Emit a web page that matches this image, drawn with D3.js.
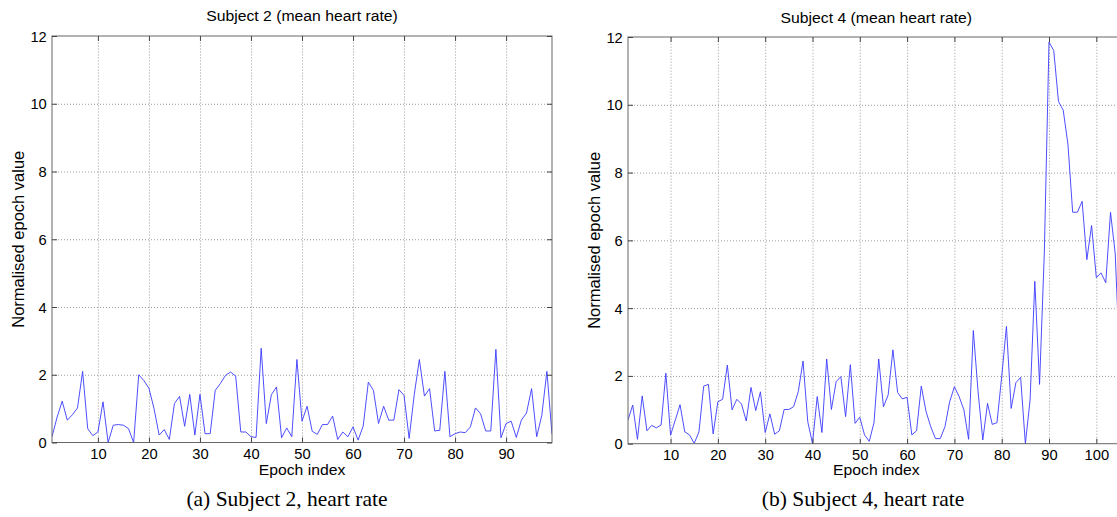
<!DOCTYPE html>
<html>
<head>
<meta charset="utf-8">
<script src="https://cdn.jsdelivr.net/npm/d3@7"></script>
<style>
  body { margin: 0; background: #fff; }
  svg { display: block; }
  .tick-label { font-family: "Liberation Sans", Arial, sans-serif; font-size: 14px; fill: #000; }
  .axis-label { font-family: "Liberation Sans", Arial, sans-serif; font-size: 15px; fill: #000; }
  .title { font-family: "Liberation Sans", Arial, sans-serif; font-size: 15px; fill: #000; }
  .caption { font-family: "Liberation Serif", "Times New Roman", serif; font-size: 20.5px; fill: #000; }
</style>
</head>
<body>
<div id="chart"></div>
<script>
// epoch values
const subject2Values = [
    0.17, 0.75, 1.22, 0.66, 0.82, 1.02, 2.1, 0.41, 0.2, 0.31,
    1.2, 0.0, 0.51, 0.53, 0.51, 0.41, 0.0, 2.0, 1.83, 1.6,
    1.0, 0.22, 0.38, 0.09, 1.15, 1.36, 0.48, 1.42, 0.22, 1.42,
    0.26, 0.26, 1.54, 1.74, 1.98, 2.08, 1.96, 0.31, 0.31, 0.17,
    0.15, 2.78, 0.56, 1.41, 1.64, 0.14, 0.43, 0.17, 2.45, 0.63,
    1.07, 0.33, 0.24, 0.53, 0.53, 0.78, 0.09, 0.31, 0.17, 0.46,
    0.07, 0.49, 1.78, 1.54, 0.56, 1.07, 0.66, 0.66, 1.56, 1.39,
    0.12, 1.41, 2.45, 1.37, 1.59, 0.34, 0.36, 2.1, 0.17, 0.26,
    0.31, 0.29, 0.46, 1.02, 0.85, 0.34, 0.34, 2.75, 0.14, 0.56,
    0.63, 0.15, 0.66, 0.87, 1.59, 0.17, 0.8, 2.1, 0.24
]
const subject4Values = [
    0.7, 1.14, 0.13, 1.41, 0.38, 0.54, 0.47, 0.55, 2.08, 0.25,
    0.7, 1.15, 0.35, 0.26, 0.01, 0.35, 1.7, 1.75, 0.29, 1.24,
    1.31, 2.32, 1.0, 1.31, 1.17, 0.67, 1.66, 0.98, 1.53, 0.33,
    0.88, 0.28, 0.38, 1.01, 1.01, 1.09, 1.54, 2.44, 0.65, 0.01,
    1.39, 0.33, 2.5, 1.01, 1.83, 1.98, 0.8, 2.33, 0.6, 0.78,
    0.26, 0.07, 0.62, 2.5, 1.09, 1.44, 2.77, 1.51, 1.32, 1.37,
    0.26, 0.38, 1.7, 0.95, 0.5, 0.15, 0.15, 0.5, 1.24, 1.68,
    1.39, 1.0, 0.13, 3.34, 1.54, 0.11, 1.19, 0.57, 0.62, 1.98,
    3.46, 1.04, 1.8, 1.96, 0.0, 1.29, 4.79, 1.75, 5.6, 11.85,
    11.6, 10.1, 9.84, 8.84, 6.83, 6.83, 7.15, 5.43, 6.44, 4.9,
    5.04, 4.75, 6.83, 5.6, 2.2, 2.4
]
const xTicks2 = [10, 20, 30, 40, 50, 60, 70, 80, 90]
const xTicks4 = [10, 20, 30, 40, 50, 60, 70, 80, 90, 100]
const yTicks = [0, 2, 4, 6, 8, 10, 12]
const titles = ["Subject 2 (mean heart rate)", "Subject 4 (mean heart rate)"]
const captions = ["(a) Subject 2, heart rate", "(b) Subject 4, heart rate"]

const SX = 1.05 // text in the source figure is a little wider than tall

const svg = d3.select("#chart").append("svg")
    .attr("width", 1117)
    .attr("height", 517)

svg.append("rect").attr("width", 1117).attr("height", 517).attr("fill", "#fff")

function stretchedText(parent, x, y, cls, anchor, txt) {
    parent.append("text")
        .attr("class", cls)
        .attr("text-anchor", anchor)
        .attr("transform", `translate(${x},${y}) scale(${SX},1)`)
        .text(txt)
}

function panel(values, xTicks, box, title, caption, captionX, titleY) {
    const { left, right, top, bottom } = box
    const x = d3.scaleLinear().domain([1, values.length]).range([left, right])
    const y = d3.scaleLinear().domain([0, 12]).range([bottom, top])
    const g = svg.append("g")

    // dotted grid
    g.append("g")
        .attr("transform", `translate(0,${bottom})`)
        .call(d3.axisBottom(x).tickValues(xTicks).tickSize(-(bottom - top)).tickFormat(""))
        .call(a => a.select(".domain").remove())
        .selectAll("line").attr("stroke", "#9a9a9a").attr("stroke-dasharray", "1,2")
    g.append("g")
        .attr("transform", `translate(${left},0)`)
        .call(d3.axisLeft(y).tickValues(yTicks.slice(1, -1)).tickSize(-(right - left)).tickFormat(""))
        .call(a => a.select(".domain").remove())
        .selectAll("line").attr("stroke", "#9a9a9a").attr("stroke-dasharray", "1,2")

    // data line
    const clipId = "clip" + left
    svg.append("clipPath").attr("id", clipId)
        .append("rect").attr("x", left).attr("y", top - 1).attr("width", right - left).attr("height", bottom - top + 2)
    g.append("path")
        .datum(values)
        .attr("clip-path", `url(#${clipId})`)
        .attr("fill", "none")
        .attr("stroke", "#3a3aff")
        .attr("stroke-width", 0.9)
        .attr("d", d3.line().x((d, i) => x(i + 1)).y(d => y(d)))

    // frame + inward ticks
    g.append("rect")
        .attr("x", left).attr("y", top)
        .attr("width", right - left).attr("height", bottom - top)
        .attr("fill", "none").attr("stroke", "#666")

    const bottomAxis = g.append("g")
        .attr("transform", `translate(0,${bottom})`)
        .call(d3.axisBottom(x).tickValues(xTicks).tickSize(-5).tickPadding(0))
    bottomAxis.select(".domain").remove()
    bottomAxis.selectAll("line").attr("stroke", "#444")
    bottomAxis.selectAll("text")
        .attr("class", "tick-label")
        .attr("y", 16.5).attr("dy", 0)
        .attr("transform", `scale(${SX},1)`)
    bottomAxis.attr("font-size", null).attr("font-family", null)

    const topAxis = g.append("g")
        .attr("transform", `translate(0,${top})`)
        .call(d3.axisTop(x).tickValues(xTicks).tickSize(-5).tickFormat(""))
    topAxis.select(".domain").remove()
    topAxis.selectAll("line").attr("stroke", "#444")

    const leftAxis = g.append("g")
        .attr("transform", `translate(${left},0)`)
        .call(d3.axisLeft(y).tickValues(yTicks).tickSize(-5).tickPadding(0))
    leftAxis.select(".domain").remove()
    leftAxis.selectAll("line").attr("stroke", "#444")
    leftAxis.selectAll("text")
        .attr("class", "tick-label")
        .attr("x", -5).attr("dy", "0.36em")
        .attr("transform", `scale(${SX},1)`)
    leftAxis.attr("font-size", null).attr("font-family", null)

    const rightAxis = g.append("g")
        .attr("transform", `translate(${right},0)`)
        .call(d3.axisRight(y).tickValues(yTicks).tickSize(-5).tickFormat(""))
    rightAxis.select(".domain").remove()
    rightAxis.selectAll("line").attr("stroke", "#444")

    // labels
    const cx = (left + right) / 2
    stretchedText(g, cx, titleY, "title", "middle", title)
    stretchedText(g, cx, 475, "axis-label", "middle", "Epoch index")
    g.append("text")
        .attr("class", "axis-label")
        .attr("text-anchor", "middle")
        .attr("transform", `translate(${left - 28},${(top + bottom) / 2}) rotate(-90)`)
        .style("font-size", "16.5px")
        .text("Normalised epoch value")
    stretchedText(g, captionX, 506, "caption", "middle", caption)
}

panel(subject2Values, xTicks2, { left: 52, right: 552, top: 36, bottom: 442.5 }, titles[0], captions[0], 287, 21)
panel(subject4Values, xTicks4, { left: 628, right: 1124.7, top: 37, bottom: 443.7 }, titles[1], captions[1], 863, 23)
</script>
</body>
</html>
